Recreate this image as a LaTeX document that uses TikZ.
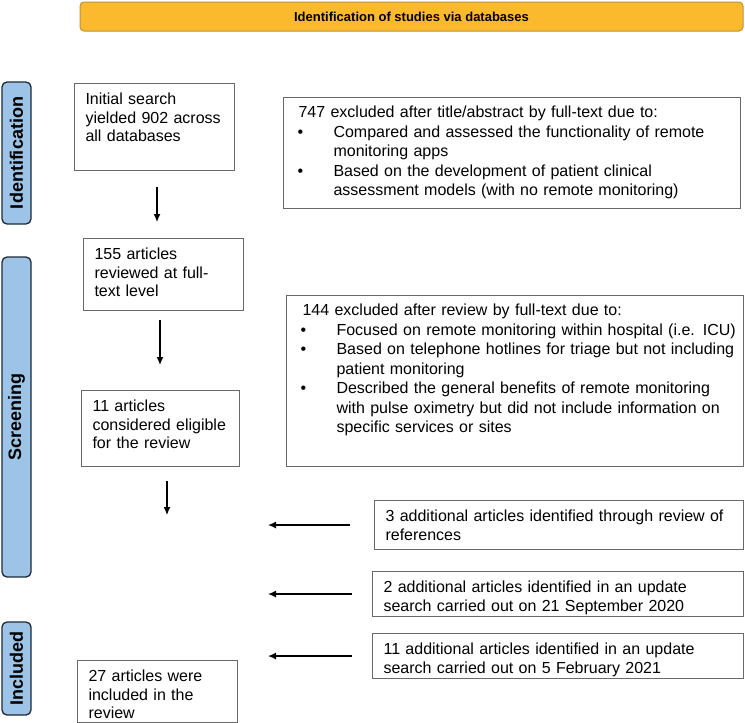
\documentclass[tikz,border=0pt]{standalone}
\usepackage{fontspec}
\setmainfont{Liberation Sans}
\usepackage{xcolor}
\usepackage{tikz}
\usetikzlibrary{arrows.meta,positioning}

\definecolor{headfill}{RGB}{251,186,46}
\definecolor{headline}{RGB}{190,145,50}
\definecolor{barfill}{RGB}{157,195,230}
\definecolor{barline}{RGB}{30,40,55}
\definecolor{boxline}{RGB}{105,105,105}

\newcommand{\bul}[1]{\makebox[36pt][l]{\textbullet}\mbox{#1}}
\newcommand{\ind}[1]{\hspace*{36pt}\mbox{#1}}

\begin{document}
\begin{tikzpicture}[
			x=1pt, y=-1pt,
			font=\fontsize{16}{18.5}\selectfont,
			flow/.style={-{Latex[length=8pt,width=7pt]}, line width=1.3pt},
			header/.style={rectangle, rounded corners=4pt, draw=headline, fill=headfill,
				line width=1pt, minimum width=663pt, minimum height=29pt, inner sep=0pt,
				font=\fontsize{13}{13}\selectfont\bfseries},
			stagebar/.style={rectangle, rounded corners=5pt, draw=barline, fill=barfill,
				line width=1.3pt, rotate=90, minimum height=29pt, inner sep=0pt,
				font=\fontsize{18}{18}\selectfont\bfseries},
			stepbox/.style={rectangle, draw=boxline, line width=1.1pt, anchor=north west,
				align=left, inner xsep=11pt, inner ysep=7pt, text height=14pt},
			exclbox/.style={stepbox, inner xsep=14pt, inner ysep=6pt, text width=429pt,
				font=\fontsize{16}{19.5}\selectfont},
			]
			\useasboundingbox (0,0) rectangle (745,723);
			
			\node[header] (head) at (411.5,16.5) {Identification of studies via databases};
			
			% stage labels
			\node[stagebar, minimum width=142pt] (sident) at (16.5,153) {Identification};
			\node[stagebar, minimum width=320pt] (sscreen) at (16.5,417) {Screening};
			\node[stagebar, minimum width=93pt] (sincl) at (16.5,668.5) {Included};
			
			% main flow
			\node[stepbox, text width=138pt, text depth=59pt] (init) at (74,83)
				{Initial search\\yielded 902 across\\all databases};
			\node[stepbox, text width=138pt, text depth=44pt] (rev) at (83,238)
				{155 articles\\reviewed at full-\\text level};
			\node[stepbox, text width=136pt, text depth=48pt] (elig) at (81,390)
				{11 articles\\considered eligible\\for the review};
			\node[stepbox, text width=138pt, text depth=34pt] (incl) at (77,660)
				{27 articles were\\included in the\\review};
			
			% exclusions
			\node[exclbox, text depth=85pt] (excl1) at (283,97)
				{\hspace*{1pt}747 excluded after title/abstract by full-text due to:\\
				\bul{Compared and assessed the functionality of remote}\\
				\ind{monitoring apps}\\
				\bul{Based on the development of patient clinical}\\
				\ind{assessment models (with no remote monitoring)}};
			\node[exclbox, text depth=145pt] (excl2) at (286,295)
				{\hspace*{2pt}144 excluded after review by full-text due to:\\
				\bul{Focused on remote monitoring within hospital (i.e. ICU)}\\
				\bul{Based on telephone hotlines for triage but not including}\\
				\ind{patient monitoring}\\
				\bul{Described the general benefits of remote monitoring}\\
				\ind{with pulse oximetry but did not include information on}\\
				\ind{specific services or sites}};
			
			% additional articles
			\node[stepbox, text width=347pt, text depth=21pt] (add1) at (374,500)
				{3 additional articles identified through review of\\references};
			\node[stepbox, text width=349pt, text depth=17pt] (add2) at (372,571)
				{2 additional articles identified in an update\\search carried out on 21 September 2020};
			\node[stepbox, text width=349pt, text depth=17pt] (add3) at (372,633)
				{11 additional articles identified in an update\\search carried out on 5 February 2021};
			
			% arrows
			\coordinate (x1) at (157,0);
			\coordinate (x2) at (160,0);
			\coordinate (x3) at (167,0);
			\coordinate (xl) at (268,0);
			\coordinate (m3) at (167,515);
			\draw[flow, shorten <=16pt, shorten >=16pt] (init.south -| x1) -- (rev.north -| x1);
			\draw[flow, shorten <=9pt, shorten >=25pt] (rev.south -| x2) -- (elig.north -| x2);
			\draw[flow, shorten <=14pt] (elig.south -| x3) -- (m3);
			\draw[flow, shorten <=24pt] (add1.west) -- (add1.west -| xl);
			\draw[flow, shorten <=20pt] (add2.west) -- (add2.west -| xl);
			\draw[flow, shorten <=20pt] (add3.west) -- (add3.west -| xl);
		\end{tikzpicture}
\end{document}
